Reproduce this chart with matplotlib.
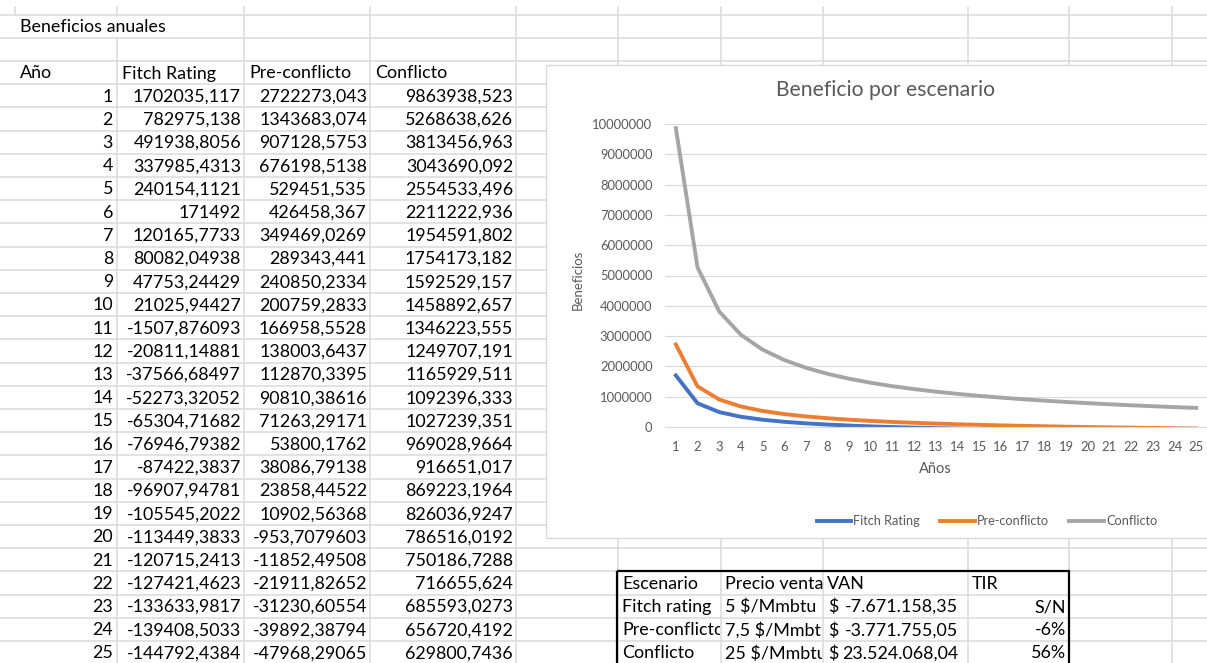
import matplotlib
matplotlib.use("Agg")
import matplotlib.pyplot as plt
from matplotlib.patches import Rectangle
from matplotlib.transforms import Bbox, TransformedBbox

plt.rcParams["font.family"] = ["Lato", "DejaVu Sans"]
plt.rcParams["text.parse_math"] = False

# Beneficios anuales por escenario
years = list(range(1, 26))
fitch = [1702035.117, 782975.138, 491938.8056, 337985.4313, 240154.1121,
         171492, 120165.7733, 80082.04938, 47753.24429, 21025.94427,
         -1507.876093, -20811.14881, -37566.68497, -52273.32052, -65304.71682,
         -76946.79382, -87422.3837, -96907.94781, -105545.2022, -113449.3833,
         -120715.2413, -127421.4623, -133633.9817, -139408.5033, -144792.4384]
pre_conflicto = [2722273.043, 1343683.074, 907128.5753, 676198.5138, 529451.535,
                 426458.367, 349469.0269, 289343.441, 240850.2334, 200759.2833,
                 166958.5528, 138003.6437, 112870.3395, 90810.38616, 71263.29171,
                 53800.1762, 38086.79138, 23858.44522, 10902.56368, -953.7079603,
                 -11852.49508, -21911.82652, -31230.60554, -39892.38794, -47968.29065]
conflicto = [9863938.523, 5268638.626, 3813456.963, 3043690.092, 2554533.496,
             2211222.936, 1954591.802, 1754173.182, 1592529.157, 1458892.657,
             1346223.555, 1249707.191, 1165929.511, 1092396.333, 1027239.351,
             969028.9664, 916651.017, 869223.1964, 826036.9247, 786516.0192,
             750186.7288, 716655.624, 685593.0273, 656720.4192, 629800.7436]
headers = ["Año", "Fitch Rating", "Pre-conflicto", "Conflicto"]

# Resumen
res_headers = ["Escenario", "Precio venta", "VAN", "TIR"]
escenarios = ["Fitch rating", "Pre-conflicto", "Conflicto"]
precios = ["5 $/Mmbtu", "7,5 $/Mmbtu", "25 $/Mmbtu"]
van = [-7671158.35, -3771755.05, 23524068.04]
tir = ["S/N", "-6%", "56%"]

W, H = 1207, 663
ROW0, RH = 14.5, 23.2
COLS = [15, 117, 244, 370, 516, 618, 721, 823, 968, 1069, 1172, 1300]
GRID = "#dadada"
SHEET_FS = 12.9


def row_y(k):
    return ROW0 + RH * k


def fmt_general(v):
    return f"{v:.10g}".replace(".", ",")


def fmt_money(v):
    return f"{v:,.2f}".replace(",", "X").replace(".", ",").replace("X", ".")


fig = plt.figure(figsize=(W / 100, H / 100), dpi=100)
sheet = fig.add_axes([0, 0, 1, 1])
sheet.set_xlim(0, W)
sheet.set_ylim(H, 0)
sheet.axis("off")

# cuadricula de la hoja
for k in range(29):
    sheet.plot([0, W], [row_y(k)] * 2, color=GRID, lw=1.1, zorder=1)
for x in COLS[1:]:
    if x == 117:
        # el titulo desborda sobre la columna B
        sheet.plot([x, x], [7, row_y(0)], color=GRID, lw=1.1, zorder=1)
        sheet.plot([x, x], [row_y(1), H], color=GRID, lw=1.1, zorder=1)
    else:
        sheet.plot([x, x], [7, H], color=GRID, lw=1.1, zorder=1)
sheet.plot([15, 15], [7, row_y(0)], color=GRID, lw=1.1, zorder=1)


def cell(col, row, s, align="left", clip=False, pad=4):
    x0, x1 = COLS[col], COLS[col + 1]
    x = x0 + pad if align == "left" else x1 - pad
    t = sheet.text(x, row_y(row) + RH / 2 + 1, s, ha=align, va="center",
                   fontsize=SHEET_FS, color="black", zorder=5)
    if clip:
        box = Bbox.from_extents(x0, row_y(row), x1 - 1, row_y(row + 1))
        t.set_clip_box(TransformedBbox(box, sheet.transData))
        t.set_clip_on(True)
    return t


sheet.text(COLS[0] + 5, row_y(0) + RH / 2 + 1, "Beneficios anuales", ha="left",
           va="center", fontsize=SHEET_FS, color="black", zorder=5)
for c, h in enumerate(headers):
    sheet.text(COLS[c] + 5 if c else 20, row_y(2) + RH / 2 + 1, h, ha="left",
               va="center", fontsize=SHEET_FS, color="black", zorder=5)
for i, yr in enumerate(years):
    r = 3 + i
    cell(0, r, str(yr), "right")
    cell(1, r, fmt_general(fitch[i]), "right", pad=3)
    cell(2, r, fmt_general(pre_conflicto[i]), "right", pad=3)
    cell(3, r, fmt_general(conflicto[i]), "right", pad=3)

# tabla resumen
for c, h in enumerate(res_headers):
    cell(5 + c, 24, h)
for i in range(3):
    r = 25 + i
    cell(5, r, escenarios[i], clip=True)
    cell(6, r, precios[i], clip=True)
    sheet.text(COLS[7] + 5, row_y(r) + RH / 2 + 1, "$", ha="left", va="center",
               fontsize=SHEET_FS, color="black", zorder=5)
    sheet.text(COLS[8] - 10, row_y(r) + RH / 2 + 1, fmt_money(van[i]), ha="right",
               va="center", fontsize=SHEET_FS, color="black", zorder=5)
    cell(8, r, tir[i], "right", pad=3)
sheet.add_patch(Rectangle((617, row_y(24)), 1069 - 617, 120, facecolor="none",
                          edgecolor="black", lw=1.6, zorder=4))

# area del grafico
sheet.add_patch(Rectangle((546, 65), 720, 473, facecolor="white",
                          edgecolor="#d9d9d9", lw=1, zorder=3))
sheet.text(886, 90, "Beneficio por escenario", ha="center", va="center",
           fontsize=15.2, color="#595959", zorder=6)
sheet.text(578, 280, "Beneficios", ha="center", va="center", rotation=90,
           fontsize=9.5, color="#595959", zorder=6)
sheet.text(935, 469, "Años", ha="center", va="center", fontsize=10.5,
           color="#595959", zorder=6)

ax = fig.add_axes([665 / W, 1 - 427 / H, 542 / W, 303 / H])
ax.patch.set_alpha(0)
ax.plot(years, fitch, color="#4472C4", lw=2.8, label="Fitch Rating")
ax.plot(years, pre_conflicto, color="#ED7D31", lw=2.8, label="Pre-conflicto")
ax.plot(years, conflicto, color="#A5A5A5", lw=2.8, label="Conflicto")
ax.set_xlim(0.5, 25.5)
ax.set_ylim(0, 10000000)
yt = list(range(0, 10000001, 1000000))
ax.set_yticks(yt)
ax.set_yticklabels([str(v) for v in yt])
ax.set_xticks(years)
ax.grid(axis="y", color="#d9d9d9", lw=0.8)
ax.set_axisbelow(True)
for s in ["left", "right", "top"]:
    ax.spines[s].set_visible(False)
ax.spines["bottom"].set_color("#d9d9d9")
ax.tick_params(length=0, colors="#595959", labelsize=9.4)
ax.tick_params(axis="y", pad=9)
ax.tick_params(axis="x", pad=10)

fig.legend(loc="center", bbox_to_anchor=(987 / W, 1 - 521 / H), ncol=3,
           frameon=False, fontsize=9.2, handlelength=2.7, handletextpad=0.15,
           columnspacing=1.6, labelcolor="#595959")

fig.savefig("out.png", dpi=100)
